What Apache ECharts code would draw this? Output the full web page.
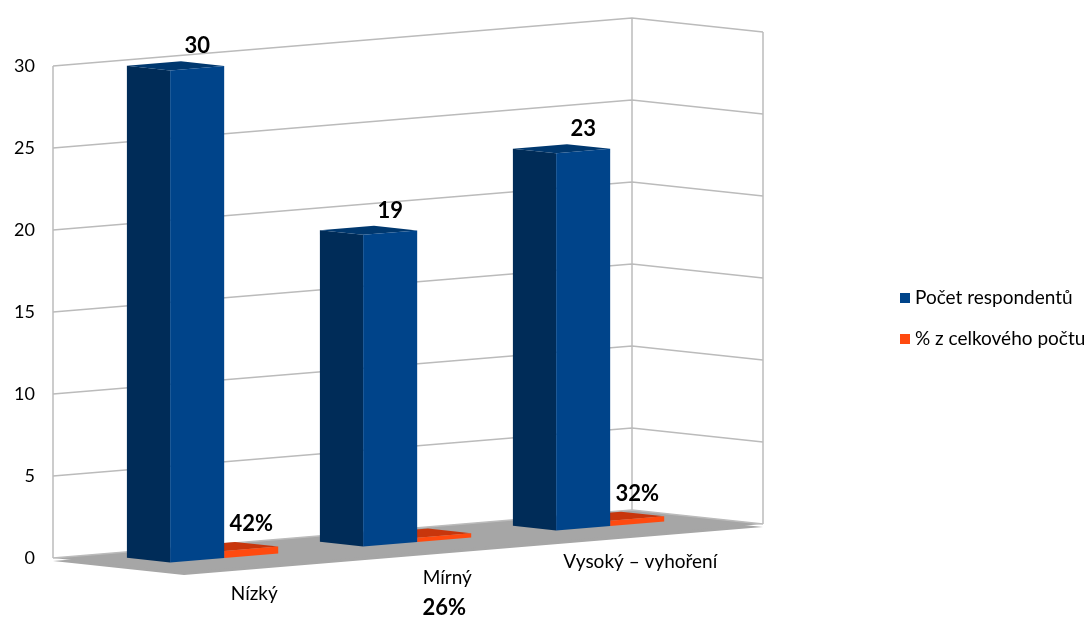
<!DOCTYPE html>
<html><head><meta charset="utf-8">
<script src="https://cdn.jsdelivr.net/npm/echarts@6/dist/echarts.min.js"></script>
<style>html,body{margin:0;padding:0;background:#fff}#c{width:1090px;height:619px}</style>
</head><body><div id="c"></div>
<script>
// ---- data ----
const categories = ['Nízký', 'Mírný', 'Vysoký – vyhoření'];
const seriesNames = ['Počet respondentů', '% z celkového počtu'];
const counts = [30, 19, 23];
const shares = [0.42, 0.26, 0.32];
const yTicks = [0, 5, 10, 15, 20, 25, 30];

// ---- styling / projection ----
const FONT = 'Lato, "Open Sans", sans-serif';
const BLUE = { front: '#00448A', side: '#002C58', top: '#00386F' };
const ORANGE = { front: '#FF4A0F', side: '#B8300A', top: '#C8360C' };
const GRID_COLOR = '#BBBBBB';
const FLOOR_COLOR = '#A6A6A6';
const DEPTH = [131, 14];      // screen offset of the full floor depth
const SKEW = -48 / 579;       // rise of the category direction
const BAR = { c0: 0.22, cm: 0.50, c1: 0.78, d0: 0.24, d1: 0.57 };

function proj(api, c, v, d) {
  const o = api.coord([0, 0]);
  const p = api.coord([c, v]);
  return [p[0] + d * DEPTH[0], p[1] + SKEW * (p[0] - o[0]) + d * DEPTH[1]];
}

function renderFrame(params, api) {
  const n = categories.length;
  const P = (c, v, d) => proj(api, c, v, d);
  const yMax = yTicks[yTicks.length - 1];
  const ch = [];
  // floor (with small thickness)
  const floor = [P(0, 0, 0), P(n, 0, 0), P(n, 0, 1), P(0, 0, 1)];
  ch.push({ type: 'polygon', shape: { points: floor.map(p => [p[0], p[1] + 3]) }, style: { fill: FLOOR_COLOR } });
  ch.push({ type: 'polygon', shape: { points: floor }, style: { fill: FLOOR_COLOR } });
  // gridlines on back wall and right wall
  yTicks.forEach(t => {
    ch.push({ type: 'polyline', shape: { points: [P(0, t, 0), P(n, t, 0), P(n, t, 1)] },
      style: { stroke: GRID_COLOR, lineWidth: 1.5, fill: null } });
  });
  [[0, 0], [n, 0], [n, 1]].forEach(([c, d]) => {
    ch.push({ type: 'line', shape: { x1: P(c, 0, d)[0], y1: P(c, 0, d)[1], x2: P(c, yMax, d)[0], y2: P(c, yMax, d)[1] },
      style: { stroke: GRID_COLOR, lineWidth: 1.5 } });
  });
  // category labels
  categories.forEach((name, i) => {
    const p = P(i + 0.5, 0, 0.8);
    ch.push({ type: 'text', style: { text: name, x: p[0], y: p[1] + 33, align: 'center', verticalAlign: 'middle',
      fontSize: 19, fontFamily: FONT, fill: '#000' } });
  });
  return { type: 'group', children: ch };
}

function barRenderer(colors, c0, c1, labelFn, labelDy) {
  return function (params, api) {
    const i = api.value(0), v = api.value(1);
    const P = (c, vv, d) => proj(api, c, vv, d);
    const a = i + c0, b = i + c1, d0 = BAR.d0, d1 = BAR.d1;
    const left = [P(a, 0, d0), P(a, 0, d1), P(a, v, d1), P(a, v, d0)];
    const top = [P(a, v, d0), P(b, v, d0), P(b, v, d1), P(a, v, d1)];
    const front = [P(a, 0, d1), P(b, 0, d1), P(b, v, d1), P(a, v, d1)];
    const lp = P((a + b) / 2, v, d1);
    const dy = labelDy(params.dataIndex);
    return { type: 'group', children: [
      { type: 'polygon', shape: { points: left }, style: { fill: colors.side } },
      { type: 'polygon', shape: { points: top }, style: { fill: colors.top } },
      { type: 'polygon', shape: { points: front }, style: { fill: colors.front } },
      { type: 'text', style: { text: labelFn(v), x: lp[0], y: lp[1] + dy, align: 'center', verticalAlign: 'middle',
        fontSize: 22, fontWeight: 'bold', fontFamily: FONT, fill: '#000' } }
    ] };
  };
}

const chart = echarts.init(document.getElementById('c'), null, { renderer: 'canvas' });
chart.setOption({
  animation: false,
  backgroundColor: '#fff',
  grid: { left: 53, top: 66, width: 579, height: 492, containLabel: false },
  xAxis: { type: 'value', min: 0, max: categories.length, show: false },
  yAxis: {
    type: 'value', min: yTicks[0], max: yTicks[yTicks.length - 1], interval: yTicks[1] - yTicks[0],
    axisLine: { show: false }, axisTick: { show: false }, splitLine: { show: false },
    axisLabel: { fontSize: 18, fontFamily: FONT, color: '#000', margin: 18 }
  },
  legend: {
    data: seriesNames, orient: 'vertical', left: 895, top: 282,
    itemWidth: 10, itemHeight: 10, itemGap: 19, icon: 'rect',
    textStyle: { fontSize: 19, fontFamily: FONT, color: '#000', lineHeight: 22 }
  },
  series: [
    { type: 'custom', z: 1, silent: true, data: [[0]], renderItem: renderFrame },
    { type: 'custom', z: 2, name: seriesNames[1], itemStyle: { color: ORANGE.front },
      data: shares.map((v, i) => [i, v]),
      renderItem: barRenderer(ORANGE, BAR.cm, BAR.c1, v => Math.round(v * 100) + '%', idx => idx === 1 ? 72 : -25) },
    { type: 'custom', z: 3, name: seriesNames[0], itemStyle: { color: BLUE.front },
      data: counts.map((v, i) => [i, v]),
      renderItem: barRenderer(BLUE, BAR.c0, BAR.cm, v => String(v), () => -22) }
  ]
});
</script>
</body></html>
